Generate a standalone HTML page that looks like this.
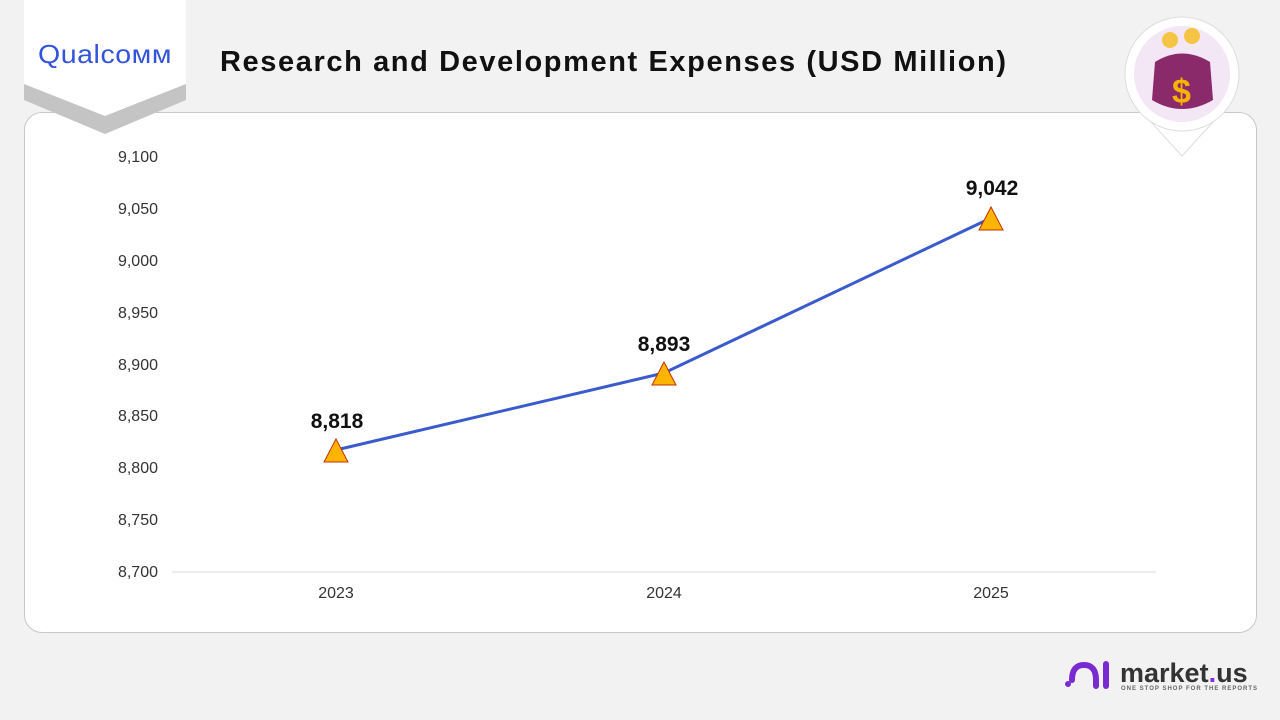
<!DOCTYPE html>
<html><head><style>
body{margin:0;width:1280px;height:720px;background:#f2f2f2;font-family:"Liberation Sans",sans-serif;position:relative;overflow:hidden}
.card{position:absolute;left:24px;top:112px;width:1231px;height:519px;background:#fff;border:1px solid #c8c8c8;border-radius:18px}
</style></head><body>
<div class="card"></div>
<svg width="1280" height="720" style="position:absolute;left:0;top:0">
<polygon points="24,0 186,0 186,100 105,134 24,100" fill="#c4c4c4"/>
<polygon points="24,0 186,0 186,84 105,116 24,84" fill="#fff"/>
<text x="38" y="63" font-size="26" fill="#3253dc" letter-spacing="0.5" textLength="134" lengthAdjust="spacingAndGlyphs">Qualcoмм</text>
<text x="220" y="71" font-size="29" font-weight="bold" fill="#111" textLength="786" lengthAdjust="spacing">Research and Development Expenses (USD Million)</text>
<g>
<polygon points="1140,110 1182,156 1224,110" fill="#fff" stroke="#ddd"/>
<circle cx="1182" cy="74" r="57" fill="#fff" stroke="#ddd"/>
<circle cx="1182" cy="74" r="48" fill="#f3e6f5"/>
<path d="M1155,62 Q1182,45 1210,62 L1213,100 Q1182,118 1152,100 Z" fill="#8a2a6a"/>
<text x="1172" y="103" font-size="34" font-weight="bold" fill="#f6b400">$</text>
<circle cx="1170" cy="40" r="8" fill="#f6c445"/><circle cx="1192" cy="36" r="8" fill="#f6c445"/>
</g>
<g font-size="16" fill="#333" text-anchor="end">
<text x="158" y="162">9,100</text><text x="158" y="214">9,050</text><text x="158" y="266">9,000</text>
<text x="158" y="318">8,950</text><text x="158" y="370">8,900</text><text x="158" y="421">8,850</text>
<text x="158" y="473">8,800</text><text x="158" y="525">8,750</text><text x="158" y="577">8,700</text>
</g>
<line x1="172" y1="572" x2="1156" y2="572" stroke="#d9d9d9"/>
<g font-size="16" fill="#333" text-anchor="middle">
<text x="336" y="598">2023</text><text x="664" y="598">2024</text><text x="991" y="598">2025</text>
</g>
<polyline points="336,450 664,373 991,218" fill="none" stroke="#3a5bcc" stroke-width="3"/>
<g fill="#ffb400" stroke="#c03000" stroke-width="1">
<polygon points="336,439 348,462 324,462"/><polygon points="664,362 676,385 652,385"/><polygon points="991,207 1003,230 979,230"/>
</g>
<g font-size="21" font-weight="bold" fill="#111" text-anchor="middle">
<text x="337" y="428">8,818</text><text x="664" y="351">8,893</text><text x="992" y="195">9,042</text>
</g>
<g fill="none" stroke="#7a2bd0" stroke-width="6" stroke-linecap="round">
<path d="M1072,680 Q1072,665 1084,665 Q1096,665 1096,680 L1096,686"/>
<line x1="1106" y1="664" x2="1106" y2="686"/>
</g>
<circle cx="1068" cy="684" r="3" fill="#7a2bd0"/>
<text x="1120" y="682" font-size="27" font-weight="bold" fill="#333">market<tspan fill="#8a2be2">.</tspan>us</text>
<text x="1121" y="690" font-size="6" font-weight="bold" fill="#666" letter-spacing="1">ONE STOP SHOP FOR THE REPORTS</text>
</svg>
</body></html>
